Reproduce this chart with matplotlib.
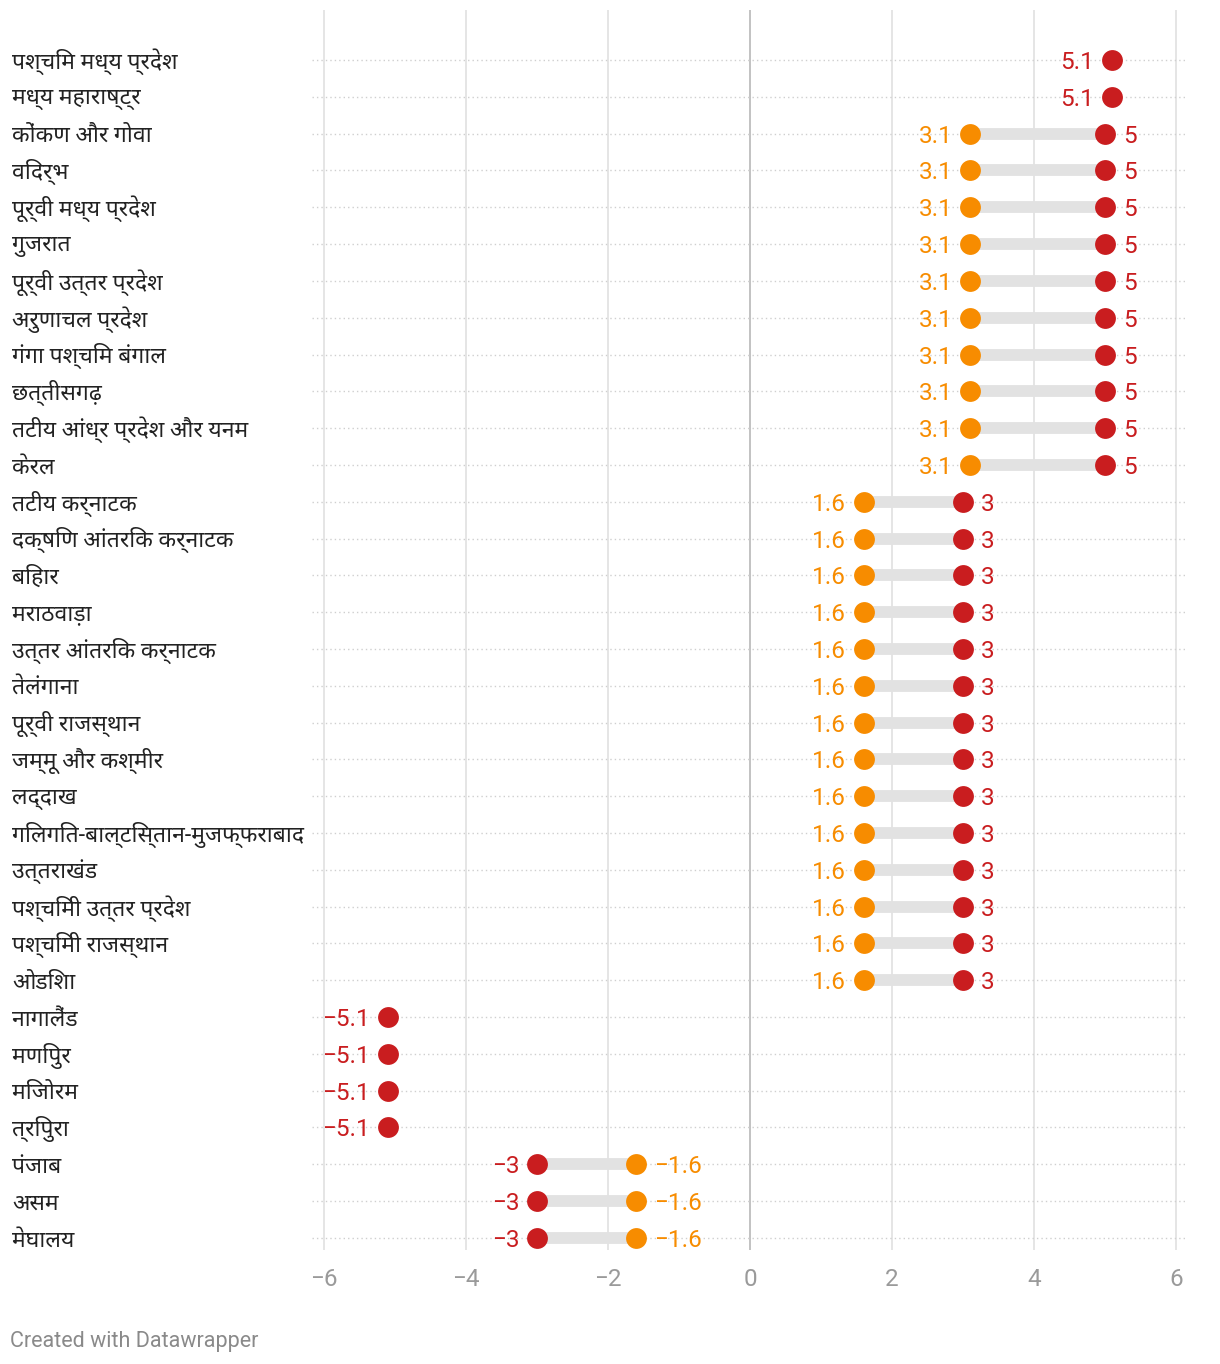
import matplotlib
matplotlib.use("Agg")
import matplotlib.pyplot as plt
import matplotlib.transforms as mtransforms
from matplotlib import font_manager as fm
import numpy as np

# Data
regions = [
    "पश्चिम मध्य प्रदेश", "मध्य महाराष्ट्र", "कोंकण और गोवा", "विदर्भ",
    "पूर्वी मध्य प्रदेश", "गुजरात", "पूर्वी उत्तर प्रदेश", "अरुणाचल प्रदेश",
    "गंगा पश्चिम बंगाल", "छत्तीसगढ़", "तटीय आंध्र प्रदेश और यनम", "केरल",
    "तटीय कर्नाटक", "दक्षिण आंतरिक कर्नाटक", "बिहार", "मराठवाड़ा",
    "उत्तर आंतरिक कर्नाटक", "तेलंगाना", "पूर्वी राजस्थान", "जम्मू और कश्मीर",
    "लद्दाख", "गिलगित-बाल्टिस्तान-मुजफ्फराबाद", "उत्तराखंड", "पश्चिमी उत्तर प्रदेश",
    "पश्चिमी राजस्थान", "ओडिशा", "नागालैंड", "मणिपुर", "मिजोरम", "त्रिपुरा",
    "पंजाब", "असम", "मेघालय",
]
orange_vals = [np.nan, np.nan] + [3.1] * 10 + [1.6] * 14 + [np.nan] * 4 + [-1.6] * 3
red_vals = [5.1, 5.1] + [5] * 10 + [3] * 14 + [-5.1] * 4 + [-3] * 3
x_ticks = [-6, -4, -2, 0, 2, 4, 6]

RED = "#c91d1f"
ORANGE = "#f78c00"

# Roboto for digits, a Devanagari face for the region names
installed = {f.name for f in fm.fontManager.ttflist}
deva = [f for f in ["Noto Sans Devanagari", "Hind", "Mukta"] if f in installed]
plt.rcParams["font.family"] = ["Roboto"] + deva[:1] + ["DejaVu Sans"]


def fmt(v):
    return f"{v:g}".replace("-", "\u2212")


W, H = 1220, 1364
fig = plt.figure(figsize=(W / 100, H / 100), dpi=100, facecolor="white")
ax = fig.add_axes([312 / W, 1 - 1250 / H, (1186 - 312) / W, (1250 - 10) / H])

n = len(regions)
y = np.arange(n)
ax.set_xlim(-6.17, 6.14)
ax.set_ylim(32.33, -1.36)

# grid
for t in x_ticks:
    ax.axvline(t, color="#bdbdbd" if t == 0 else "#e3e3e3", lw=1.3, zorder=0)
for yi in y:
    ax.axhline(yi, color="#cfcfcf", lw=1, ls=(0, (1, 2.2)), zorder=0)

# range bars
for yi, o, r in zip(y, orange_vals, red_vals):
    if not np.isnan(o):
        ax.plot([o, r], [yi, yi], color="#e2e2e2", lw=8.5, solid_capstyle="butt", zorder=1)

ax.scatter(orange_vals, y, s=15 ** 2, color=ORANGE, zorder=3, lw=0)
ax.scatter(red_vals, y, s=15 ** 2, color=RED, zorder=3, lw=0)

# value labels
dx = 0.25
for yi, o, r in zip(y, orange_vals, red_vals):
    if np.isnan(o):
        ax.text(r - dx, yi, fmt(r), color=RED, fontsize=17.5, ha="right", va="center_baseline")
        continue
    lo, hi = (o, r) if o < r else (r, o)
    lo_c = ORANGE if lo == o else RED
    hi_c = RED if lo == o else ORANGE
    ax.text(lo - dx, yi, fmt(lo), color=lo_c, fontsize=17.5, ha="right", va="center_baseline")
    ax.text(hi + dx, yi, fmt(hi), color=hi_c, fontsize=17.5, ha="left", va="center_baseline")

# row labels
trans = mtransforms.blended_transform_factory(fig.transFigure, ax.transData)
for yi, name in zip(y, regions):
    ax.text(12 / W, yi + 0.05, name, transform=trans, fontsize=16.5, color="#222222",
            ha="left", va="center")

ax.set_xticks(x_ticks)
ax.set_xticklabels([fmt(t) for t in x_ticks], fontsize=17.5, color="#9a9a9a")
ax.tick_params(axis="x", length=0, pad=13)
ax.set_yticks([])
for s in ax.spines.values():
    s.set_visible(False)

fig.text(10 / W, 1 - 1341 / H, "Created with Datawrapper", fontsize=15.5, color="#8a8a8a",
         ha="left", va="center")

fig.savefig("out.png", dpi=100, facecolor="white")
